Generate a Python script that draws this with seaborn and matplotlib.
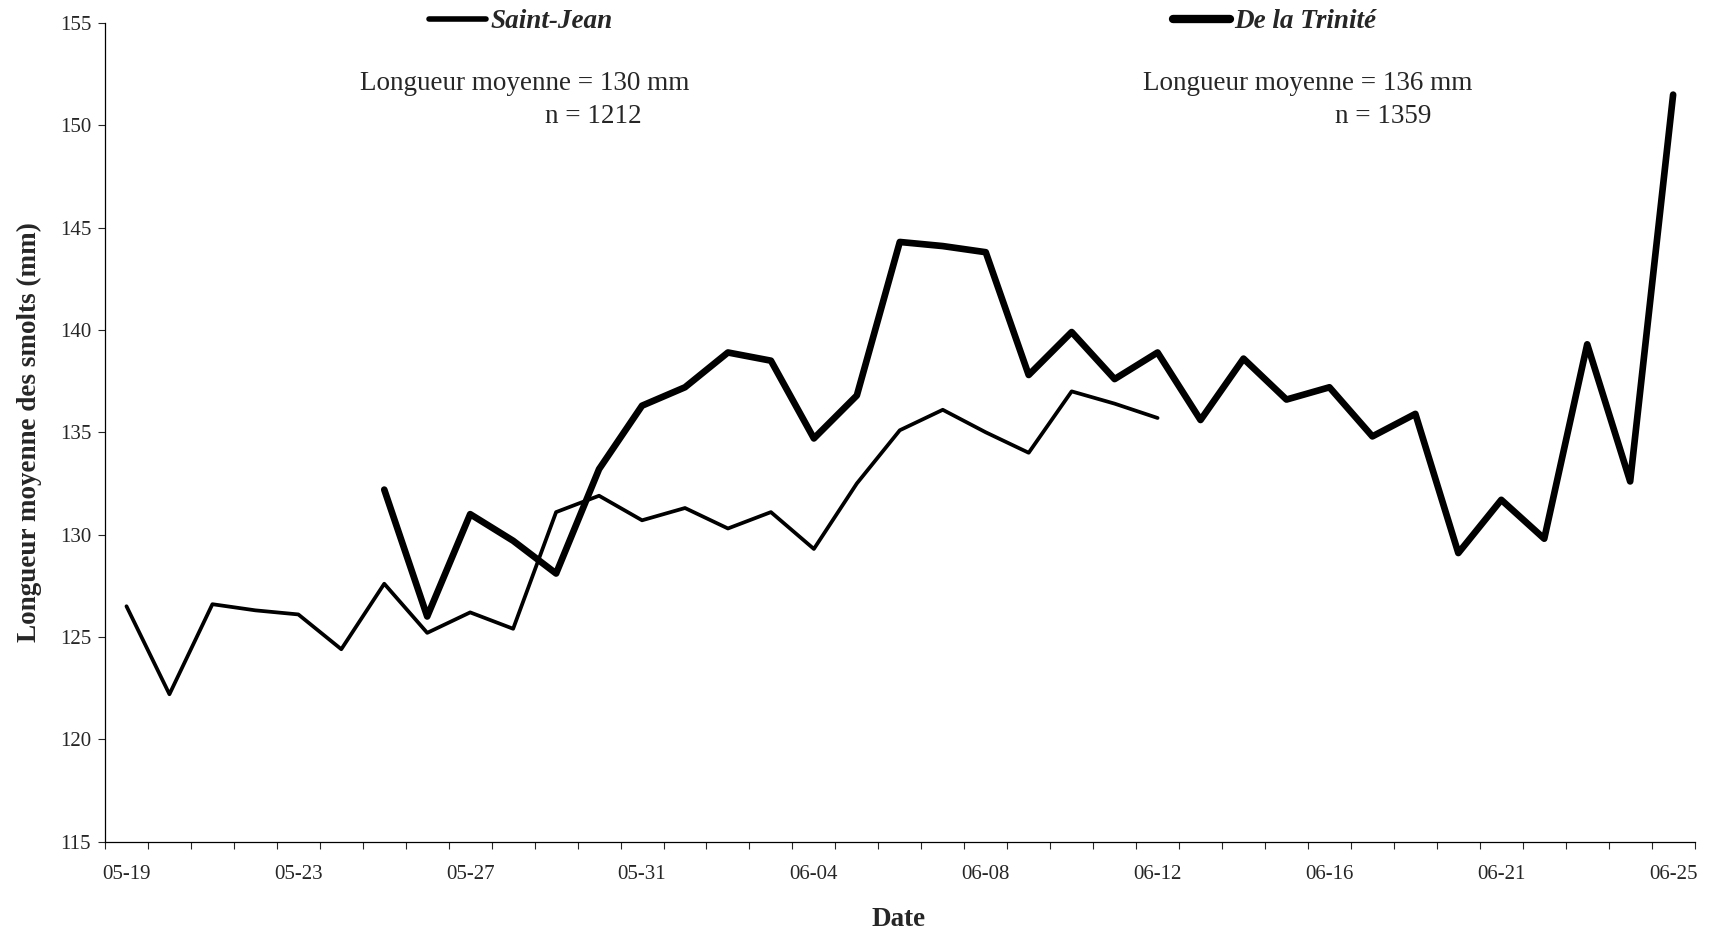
import numpy as np
import pandas as pd
import matplotlib.pyplot as plt
from matplotlib.lines import Line2D
import seaborn as sns

# categories on the x axis (one per sampling day, 06-19 absent)
dates = ['05-19', '05-20', '05-21', '05-22', '05-23', '05-24', '05-25', '05-26',
         '05-27', '05-28', '05-29', '05-30', '05-31', '06-01', '06-02', '06-03',
         '06-04', '06-05', '06-06', '06-07', '06-08', '06-09', '06-10', '06-11',
         '06-12', '06-13', '06-14', '06-15', '06-16', '06-17', '06-18', '06-20',
         '06-21', '06-22', '06-23', '06-24', '06-25']

# Saint-Jean : 05-19 -> 06-12
st_jean_dates = dates[0:25]
st_jean = [126.5, 122.2, 126.6, 126.3, 126.1, 124.4, 127.6, 125.2, 126.2, 125.4,
           131.1, 131.9, 130.7, 131.3, 130.3, 131.1, 129.3, 132.5, 135.1, 136.1,
           135.0, 134.0, 137.0, 136.4, 135.7]

# De la Trinité : 05-25 -> 06-25
trinite_dates = dates[6:37]
trinite = [132.2, 126.0, 131.0, 129.7, 128.1, 133.2, 136.3, 137.2, 138.9, 138.5,
           134.7, 136.8, 144.3, 144.1, 143.8, 137.8, 139.9, 137.6, 138.9, 135.6,
           138.6, 136.6, 137.2, 134.8, 135.9, 129.1, 131.7, 129.8, 139.3, 132.6,
           151.5]

site_names = ['Saint-Jean', 'De la Trinité']
site_lw = {'Saint-Jean': 2.7, 'De la Trinité': 4.8}

df = pd.concat([
    pd.DataFrame({'date': st_jean_dates, 'longueur': st_jean, 'site': 'Saint-Jean'}),
    pd.DataFrame({'date': trinite_dates, 'longueur': trinite, 'site': 'De la Trinité'}),
], ignore_index=True)
df['pos'] = pd.Categorical(df['date'], categories=dates).codes

sns.set_style('ticks')
plt.rcParams['font.family'] = ['Liberation Serif', 'DejaVu Serif']
plt.rcParams['font.size'] = 15

fig = plt.figure(figsize=(17.1, 9.35), dpi=100)
ax = fig.add_axes([0.0614, 0.0999, 0.9296, 0.8755])

sns.lineplot(data=df, x='pos', y='longueur', hue='site', size='site',
             sizes=site_lw, palette={s: 'black' for s in site_names},
             hue_order=site_names, legend=False, ax=ax)

ax.set_xlim(-0.5, len(dates) - 0.5)
ax.set_ylim(115, 155)
ax.set_yticks(np.arange(115, 156, 5))

# labels centred in categories, tick marks between categories (Excel style)
ax.set_xticks(np.arange(0, len(dates), 4))
ax.set_xticklabels(dates[::4])
ax.set_xticks(np.arange(-0.5, len(dates), 1), minor=True)
ax.tick_params(axis='x', which='major', length=0, pad=17, labelsize=15)
ax.tick_params(axis='x', which='minor', length=5, width=0.8, direction='out')
ax.tick_params(axis='y', length=5, width=0.8, direction='out', pad=5, labelsize=15)

for sp in ['top', 'right']:
    ax.spines[sp].set_visible(False)
for sp in ['left', 'bottom']:
    ax.spines[sp].set_linewidth(0.9)
    ax.spines[sp].set_color('black')

ax.set_xlabel('Date', fontsize=19.5, fontweight='bold')
ax.set_ylabel('Longueur moyenne des smolts (mm)', fontsize=19.5, fontweight='bold')
ax.xaxis.set_label_coords(0.4994, -0.080)
ax.yaxis.set_label_coords(-0.0396, 0.5)

# legende en haut
handles = [Line2D([], [], color='black', lw=lw) for lw in (4.0, 6.0)]
ax.legend(handles, site_names, ncol=2, loc='center left', bbox_to_anchor=(0.204, 1.0015),
          frameon=False, borderpad=0, borderaxespad=0, handlelength=2.1,
          handletextpad=0.16, columnspacing=20.7,
          prop={'size': 19.5, 'weight': 'bold', 'style': 'italic'})

ax.text(0.1604, 0.9267, 'Longueur moyenne = 130 mm', transform=ax.transAxes,
        fontsize=19.5, ha='left', va='center')
ax.text(0.3075, 0.8853, 'n = 1212', transform=ax.transAxes,
        fontsize=19.5, ha='center', va='center')
ax.text(0.6528, 0.9267, 'Longueur moyenne = 136 mm', transform=ax.transAxes,
        fontsize=19.5, ha='left', va='center')
ax.text(0.8044, 0.8853, 'n = 1359', transform=ax.transAxes,
        fontsize=19.5, ha='center', va='center')

plt.savefig('out.png', dpi=100)
